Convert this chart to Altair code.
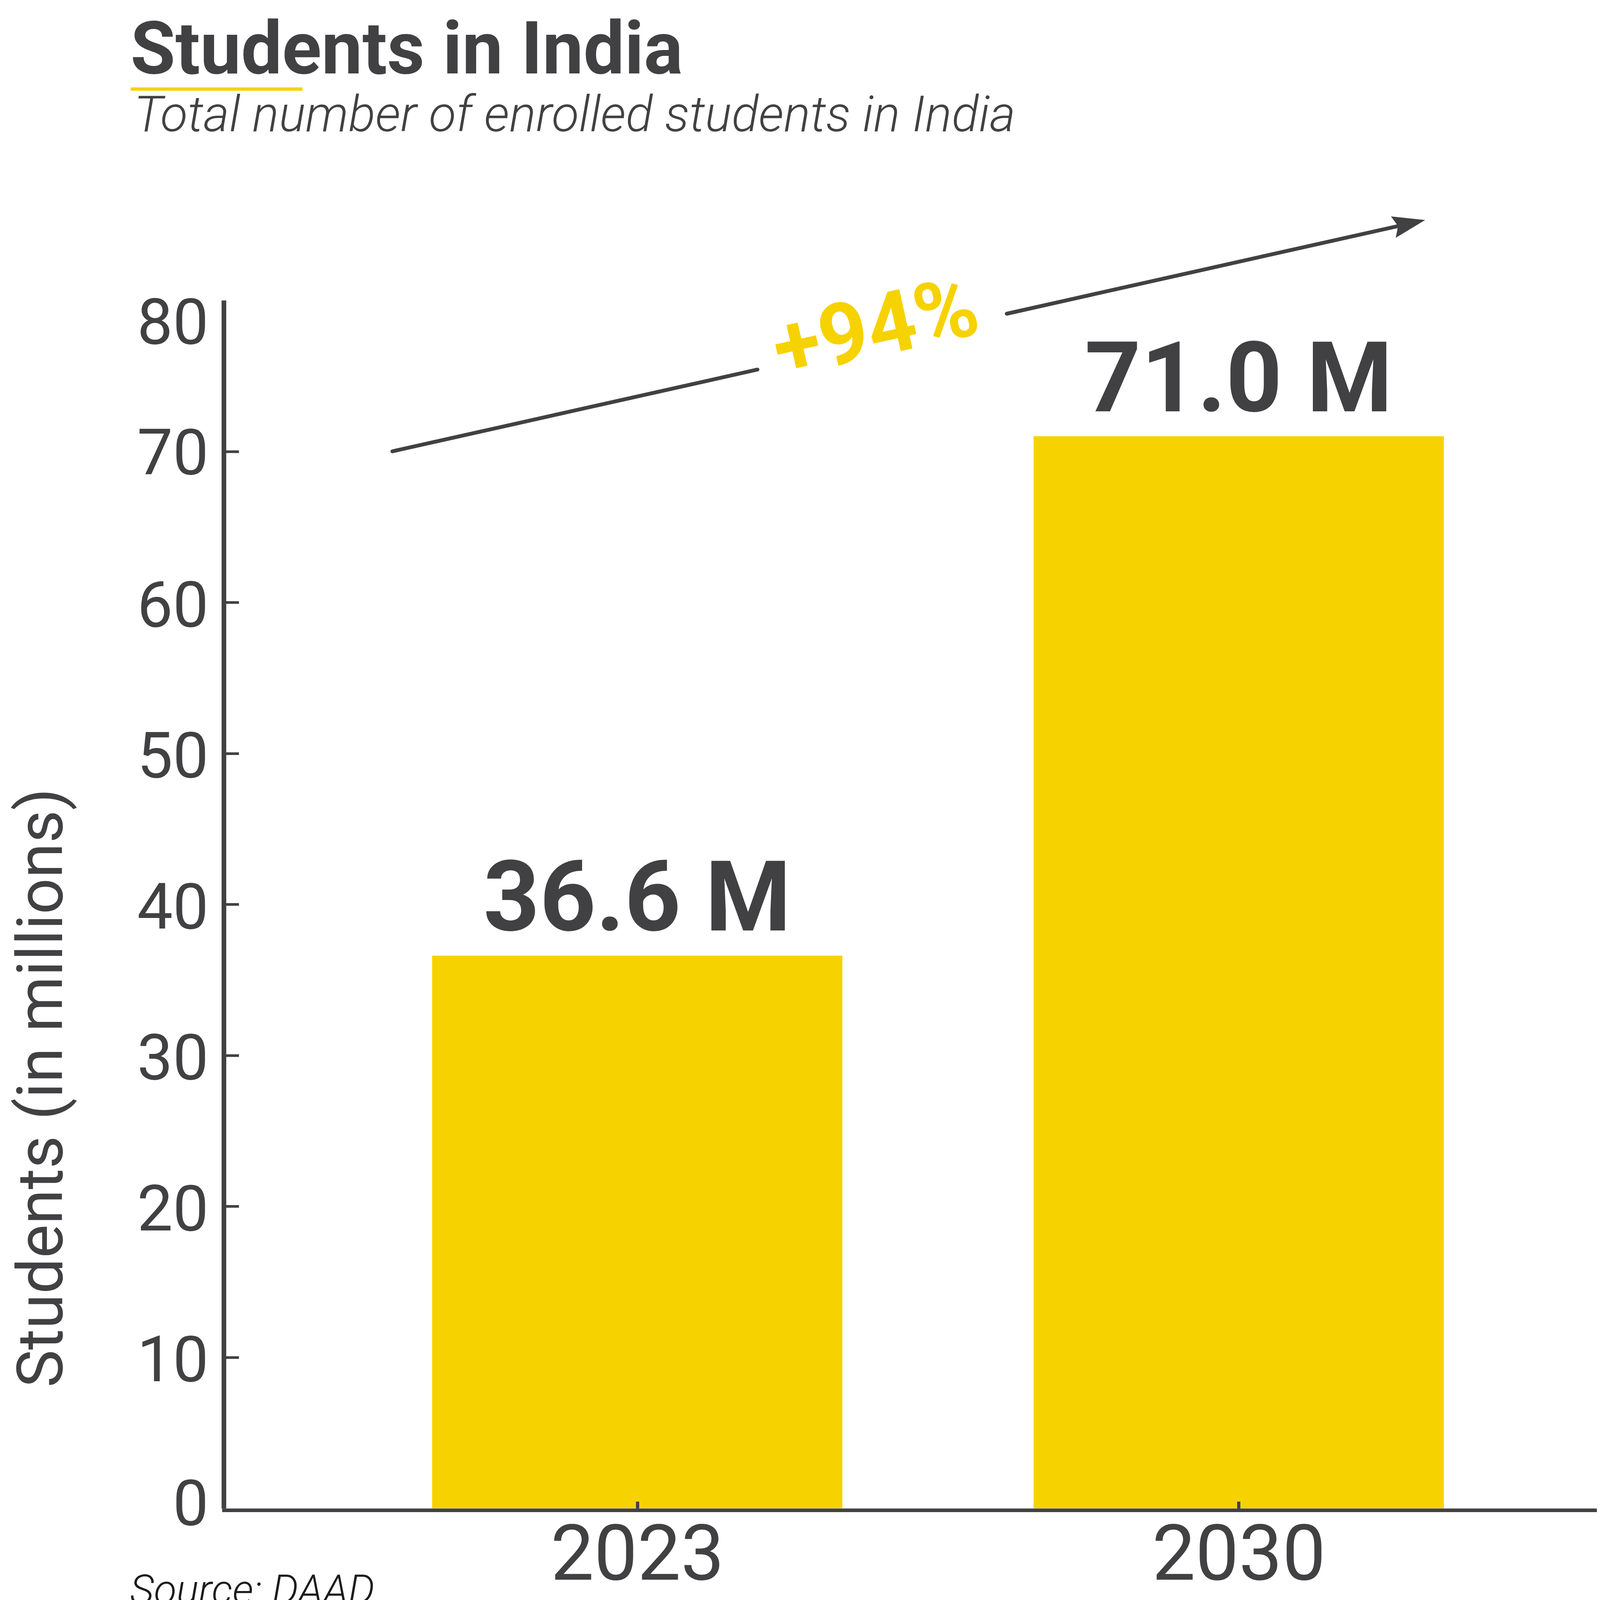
import math
import altair as alt
import pandas as pd

# ---------------- data ----------------
years = [2023, 2030]
students = [36.6, 71.0]                  # enrolled students, millions
value_labels = [f"{v:.1f} M" for v in students]
y_ticks = [0, 10, 20, 30, 40, 50, 60, 70, 80]
y_inner_ticks = [10, 20, 30, 40, 50, 60, 70]
arrow_start = [2020.15, 70.0]            # (year, millions)
arrow_end = [2032.17, 85.32]
growth_label = f"+{round((students[1] / students[0] - 1) * 100)}%"

title_text = "Students in India"
subtitle_text = "Total number of enrolled students in India"
source_text = "Source: DAAD"
y_title = "Students (in millions)"

# ---------------- layout / style ----------------
SX = 4096 / 4992        # page px per reference px, horizontal
SY = 4180 / 6388        # page px per reference px, vertical
SF = 0.733              # font scale


def sx(v):
    return round(v * SX, 2)


def sy(v):
    return round(v * SY, 2)


def sf(v):
    return round(v * SF, 1)


PLOT_LEFT, PLOT_TOP, PLOT_BOTTOM = sx(698), sy(1175), sy(5901)
W = 3514
H = round(PLOT_BOTTOM - PLOT_TOP, 2)
X_DOMAIN = [2018.21, 2034.14]
Y_DOMAIN = [0, 80]
DARK = "#414143"
YELLOW = "#F6D200"
FONT = "Roboto"

px_x = W / (X_DOMAIN[1] - X_DOMAIN[0])
px_y = H / (Y_DOMAIN[1] - Y_DOMAIN[0])
dxp = (arrow_end[0] - arrow_start[0]) * px_x
dyp = (arrow_end[1] - arrow_start[1]) * px_y
theta = math.degrees(math.atan2(dyp, dxp))
ANGLE = 360 - theta


def along(t):
    return (arrow_start[0] + t * (arrow_end[0] - arrow_start[0]),
            arrow_start[1] + t * (arrow_end[1] - arrow_start[1]))


segments = []
for t0, t1 in [(0.0, 0.3535), (0.5949, 0.9742)]:
    (xa, ya), (xb, yb) = along(t0), along(t1)
    segments.append({"x": xa, "y": ya, "x2": xb, "y2": yb})
seg_df = pd.DataFrame(segments)

tx, ty = along(0.471)
growth_df = pd.DataFrame({"x": [tx], "y": [ty], "label": [growth_label]})
head_df = pd.DataFrame({"x": [arrow_end[0]], "y": [arrow_end[1]]})

bars_df = pd.DataFrame({"year": years, "students": students, "label": value_labels})

xscale = alt.Scale(domain=X_DOMAIN, nice=False, zero=False)
yscale = alt.Scale(domain=Y_DOMAIN, nice=False, zero=True)

X_AXIS_OFFSET = sy(7)
SOURCE_BASE = 4105       # page px
x_main_axis = alt.Axis(
    values=years, format="d", orient="bottom", offset=X_AXIS_OFFSET,
    grid=False, ticks=False, tickSize=0,
    domain=True, domainColor=DARK, domainWidth=sy(14), domainCap="square",
    labelFont=FONT, labelFontSize=sf(270), labelColor=DARK,
    labelPadding=round(sy(6179) - PLOT_BOTTOM - X_AXIS_OFFSET, 1),
    labelBaseline="alphabetic", labelFlush=False,
    labelLimit=5000, labelOverlap=False,
    title=source_text, titleX=round(sx(405) - PLOT_LEFT, 1),
    titleY=round(SOURCE_BASE - PLOT_BOTTOM - X_AXIS_OFFSET, 1),
    titleAlign="left", titleAngle=0, titleBaseline="alphabetic",
    titleFont=FONT, titleFontSize=sf(145), titleFontStyle="italic",
    titleFontWeight=300, titleColor="#1c1c1c", titleLimit=5000, zindex=1,
)

YF = sf(222)
mid = 0.055 * YF        # vega "middle" sits digits this far above the tick
y_main_axis = alt.Axis(
    values=y_ticks, orient="left", grid=False, ticks=False, tickSize=0,
    domain=True, domainColor=DARK, domainWidth=sx(14.6),
    labelFont=FONT, labelFontSize=YF, labelColor=DARK,
    labelPadding=round(PLOT_LEFT - sx(650), 1), labelFlush=False,
    labelBaseline="middle", labelLimit=5000, labelOverlap=False,
    labelOffset={"condition": [
        {"test": "datum.value == 80", "value": round(sy(81) + mid, 1)},
        {"test": "datum.value == 0", "value": round(sy(-24) + mid, 1)},
        {"test": "datum.value == 70", "value": round(mid, 1)}],
        "value": round(sy(5) + mid, 1)},
    title=y_title, titleX=round(sx(193) - PLOT_LEFT, 1),
    titleY=round(sy(4255) - PLOT_TOP, 1), titleAngle=270,
    titleAlign="center", titleBaseline="alphabetic", titleFont=FONT,
    titleFontSize=YF, titleFontWeight=400, titleColor=DARK,
    titleLimit=5000, zindex=1,
)

x_tick_axis = alt.Axis(
    values=years, orient="top", offset=-H, grid=False, labels=False,
    domain=False, ticks=True, tickSize=sy(27), tickWidth=sx(10),
    tickColor=DARK, title="", zindex=1,
)
y_tick_axis = alt.Axis(
    values=y_inner_ticks, orient="right", offset=-W, grid=False, labels=False,
    domain=False, ticks=True, tickSize=sx(47), tickWidth=sy(10),
    tickColor=DARK, title="", zindex=1,
)

bars = alt.Chart(bars_df).mark_bar(
    orient="vertical", size=sx(1280), color=YELLOW
).encode(
    x=alt.X("year:Q", scale=xscale, axis=x_main_axis),
    y=alt.Y("students:Q", scale=yscale, axis=y_main_axis),
)

value_text = alt.Chart(bars_df).mark_text(
    align="center", baseline="alphabetic", dy=-sy(98), font=FONT,
    fontSize=sf(343), fontWeight="bold", color=DARK,
).encode(
    x=alt.X("year:Q", scale=xscale, axis=x_tick_axis),
    y=alt.Y("students:Q", scale=yscale, axis=y_tick_axis),
    text="label:N",
)

arrow_lines = alt.Chart(seg_df).mark_rule(
    color=DARK, strokeWidth=9.8, strokeCap="round",
).encode(
    x=alt.X("x:Q", scale=xscale, axis=None),
    y=alt.Y("y:Q", scale=yscale, axis=None),
    x2="x2:Q", y2="y2:Q",
)

HEAD_R = sx(50.85)
HEAD_W = round(sy(43) / HEAD_R, 3)
HEAD_N = round(sx(86.6) / HEAD_R, 3)
HEAD_PATH = f"M0,0L-2,-{HEAD_W}L-{HEAD_N},0L-2,{HEAD_W}Z"
arrow_head = alt.Chart(head_df).mark_point(
    shape=HEAD_PATH, filled=True, size=round((2 * HEAD_R) ** 2),
    angle=ANGLE, color=DARK, opacity=1, strokeWidth=0,
).encode(
    x=alt.X("x:Q", scale=xscale, axis=None),
    y=alt.Y("y:Q", scale=yscale, axis=None),
)

growth_text = alt.Chart(growth_df).mark_text(
    align="center", baseline="alphabetic", dy=34, angle=ANGLE,
    font=FONT, fontSize=sf(298), fontWeight="bold", color=YELLOW,
).encode(
    x=alt.X("x:Q", scale=xscale, axis=None),
    y=alt.Y("y:Q", scale=yscale, axis=None),
    text="label:N",
)

# title block (page px -> plot-relative px)
TITLE_BASE = 188
UNDERLINE_Y = 228
SUB_BASE = 336

head_txt = pd.DataFrame({"t": [title_text]})
title_mark = alt.Chart(head_txt).mark_text(
    align="left", baseline="alphabetic", font=FONT, fontSize=sf(255),
    fontWeight="bold", color=DARK,
).encode(x=alt.value(round(sx(407) - PLOT_LEFT, 1)),
         y=alt.value(round(TITLE_BASE - PLOT_TOP, 1)), text="t:N")

underline = alt.Chart(head_txt).mark_rule(
    color=YELLOW, strokeWidth=sy(13)
).encode(
    x=alt.value(round(sx(408) - PLOT_LEFT, 1)),
    x2=alt.value(round(sx(944) - PLOT_LEFT, 1)),
    y=alt.value(round(UNDERLINE_Y - PLOT_TOP, 1)),
)

sub_txt = pd.DataFrame({"t": [subtitle_text]})
subtitle_mark = alt.Chart(sub_txt).mark_text(
    align="left", baseline="alphabetic", font=FONT, fontSize=128,
    fontWeight=300, fontStyle="italic", color=DARK,
).encode(x=alt.value(round(sx(418) - PLOT_LEFT, 1)),
         y=alt.value(round(SUB_BASE - PLOT_TOP, 1)), text="t:N")

PAD_LEFT = round(PLOT_LEFT - 8, 2)
PAD_TOP = round(PLOT_TOP - 8, 2)
PAD_RIGHT = 1
PAD_BOTTOM = 310

chart = alt.layer(
    bars, value_text, arrow_lines, arrow_head, growth_text,
    title_mark, underline, subtitle_mark,
).resolve_axis(
    x="independent", y="independent"
).properties(
    width=W, height=H,
    autosize=alt.AutoSizeParams(type="none"),
    padding={"left": PAD_LEFT, "top": PAD_TOP, "right": PAD_RIGHT,
             "bottom": PAD_BOTTOM},
).configure(
    font=FONT, background="white",
).configure_view(
    stroke="transparent",
)

chart.save("out.html", embed_options={"renderer": "svg", "actions": False})
